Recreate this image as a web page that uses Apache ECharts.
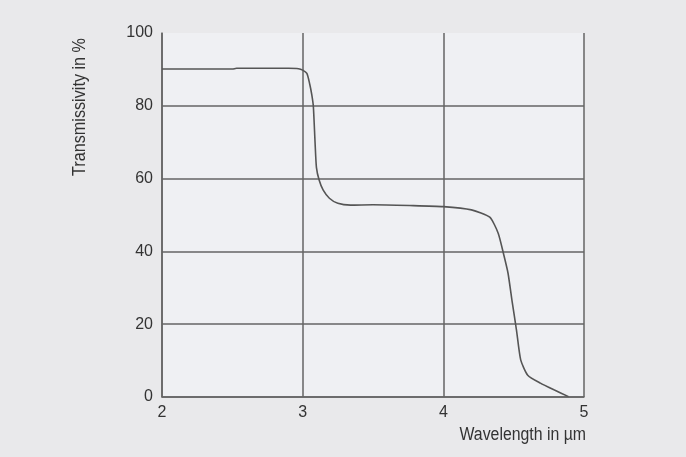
<!DOCTYPE html>
<html>
<head>
<meta charset="utf-8">
<script src="https://cdn.jsdelivr.net/npm/echarts@6/dist/echarts.min.js"></script>
<style>
html,body{margin:0;padding:0;background:#e9e9eb;}
#chart{width:686px;height:457px;}
</style>
</head>
<body>
<div id="chart"></div>
<script>
// Wavelength in µm
const wavelength = [2.0, 2.5, 2.53, 2.9, 2.97, 3.0, 3.03, 3.05, 3.065, 3.076, 3.088, 3.098, 3.117, 3.145, 3.19, 3.25, 3.34, 3.5, 3.76, 4.0, 4.2, 4.33, 4.39, 4.43, 4.46, 4.49, 4.52, 4.55, 4.6, 4.69, 4.79, 4.89];
// Transmissivity in %
const transmissivity = [90.1, 90.1, 90.3, 90.3, 90.2, 89.8, 88.9, 86.0, 83.0, 79.8, 70.0, 63.0, 59.6, 56.9, 54.6, 53.2, 52.7, 52.8, 52.6, 52.3, 51.4, 49.4, 45.0, 39.0, 34.0, 26.0, 18.4, 10.2, 6.0, 3.8, 1.9, 0.1];
const xTicks = [2, 3, 4, 5];
const yTicks = [0, 20, 40, 60, 80, 100];

const font = '"Liberation Sans", Arial, sans-serif';
const gridColor = '#646464';
const chart = echarts.init(document.getElementById('chart'), null, {renderer: 'canvas'});
chart.setOption({
  backgroundColor: '#e9e9eb',
  animation: false,
  grid: {left: 162, right: 102, top: 33, bottom: 60, show: true, backgroundColor: '#eff0f3', borderWidth: 0},
  xAxis: {
    type: 'value', min: xTicks[0], max: xTicks[xTicks.length - 1], interval: 1,
    axisLine: {show: true, lineStyle: {color: gridColor, width: 1.5}},
    axisTick: {show: false},
    axisLabel: {color: '#333', fontFamily: font, fontSize: 16, margin: 8},
    splitLine: {show: true, lineStyle: {color: gridColor, width: 1.5}}
  },
  yAxis: {
    type: 'value', min: yTicks[0], max: yTicks[yTicks.length - 1], interval: 20,
    axisLine: {show: true, lineStyle: {color: gridColor, width: 1.5}},
    axisTick: {show: false},
    axisLabel: {color: '#333', fontFamily: font, fontSize: 16, margin: 9},
    splitLine: {show: true, showMaxLine: false, lineStyle: {color: gridColor, width: 1.5}}
  },
  graphic: [
    {type: 'text', left: 71, top: 38, style: {text: 'Transmissivity in %', font: '18px ' + font, fill: '#333'}, rotation: Math.PI / 2, scaleX: 0.9, scaleY: 1},
    {type: 'text', right: 100, top: 426, style: {text: 'Wavelength in µm', font: '18px ' + font, fill: '#333'}, scaleX: 0.88, scaleY: 1}
  ],
  series: [{
    type: 'line',
    data: wavelength.map((w, i) => [w, transmissivity[i]]),
    showSymbol: false,
    smooth: 0.2,
    lineStyle: {color: '#555', width: 1.6}
  }]
});
</script>
</body>
</html>
